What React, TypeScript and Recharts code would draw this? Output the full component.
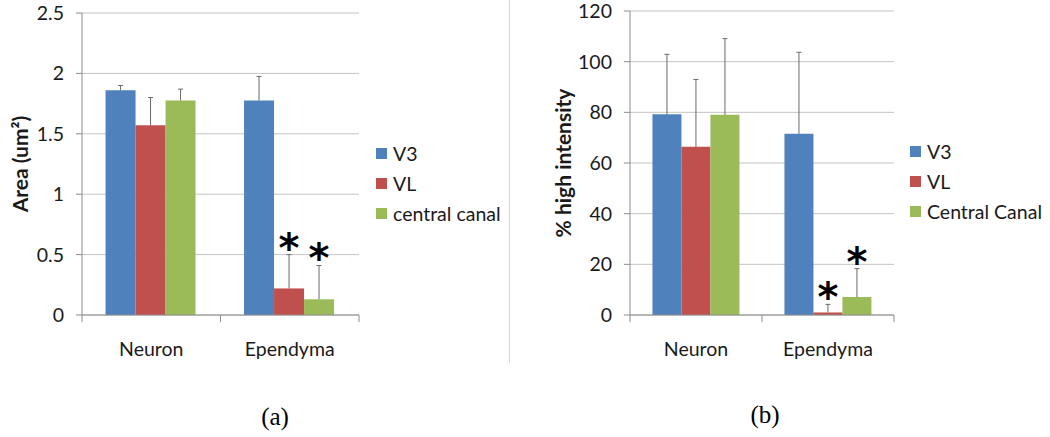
import React from "react";
import {
  Bar,
  BarChart,
  CartesianGrid,
  LabelList,
  XAxis,
  YAxis,
} from "recharts";

const categories = ["Neuron", "Ependyma"];

// panel (a): area
const areaV3 = [1.86, 1.775];
const areaV3Err = [0.04, 0.2];
const areaVL = [1.57, 0.22];
const areaVLErr = [0.23, 0.28];
const areaCC = [1.775, 0.13];
const areaCCErr = [0.095, 0.28];
const areaV3Sig = [false, false];
const areaVLSig = [false, true];
const areaCCSig = [false, true];
const areaTicks = [0, 0.5, 1, 1.5, 2, 2.5];

// panel (b): % high intensity
const intV3 = [79.2, 71.5];
const intV3Err = [23.7, 32.2];
const intVL = [66.4, 1.0];
const intVLErr = [26.6, 3.2];
const intCC = [79, 7.1];
const intCCErr = [30.1, 11.2];
const intV3Sig = [false, false];
const intVLSig = [false, true];
const intCCSig = [false, true];
const intTicks = [0, 20, 40, 60, 80, 100, 120];

const BLUE = "#4F81BD";
const RED = "#C0504D";
const GREEN = "#9BBB59";
const GRID = "#c4c4c4";
const AXIS = "#8c8c8c";
const ERR = "#6a6a6a";
const TEXT = "#1a1a1a";
const FONT = "Lato, 'Open Sans', sans-serif";

function buildRows(v3: number[], vl: number[], cc: number[]) {
  return categories.map((name, i) => ({ name, v3: v3[i], vl: vl[i], cc: cc[i] }));
}

// upper-only error bar plus optional significance star, placed from the bar's own geometry
function errLabel(values: number[], errs: number[], sig: boolean[]) {
  return (p: any) => {
    const i = p.index;
    const ratio = Number(p.height) / values[i];
    const barTop = Number(p.y);
    const top = barTop - errs[i] * ratio;
    const cx = Number(p.x) + Number(p.width) / 2;
    return (
      <g>
        <line x1={cx} x2={cx} y1={barTop} y2={top} stroke={ERR} strokeWidth={1} />
        <line x1={cx - 2.5} x2={cx + 2.5} y1={top} y2={top} stroke={ERR} strokeWidth={1} />
        {sig[i] && (
          <text
            x={cx}
            y={top + 7}
            textAnchor="middle"
            fontFamily="'DejaVu Sans', sans-serif"
            fontWeight="bold"
            fontSize={40}
            fill="#000"
          >
            *
          </text>
        )}
      </g>
    );
  };
}

function Panel({
  left, width, marginRight, yWidth, domain, ticks, yLabel, yLabelX, rows, top, series,
}: any) {
  const height = 380;
  const plotW = width - marginRight - yWidth;
  const half = plotW / categories.length / 2;
  return (
    <div style={{ position: "absolute", left, top: 0, width, height }}>
      <BarChart
        width={width}
        height={height}
        data={rows}
        margin={{ top, right: marginRight, bottom: 15, left: 0 }}
        barCategoryGap="17%"
        barGap={0}
      >
        <CartesianGrid vertical={false} stroke={GRID} />
        <XAxis
          dataKey="name"
          height={50}
          stroke={AXIS}
          tickLine={false}
          tickSize={0}
          tickMargin={0}
          tick={(t: any) => (
            <g>
              <line x1={t.x - half} x2={t.x - half} y1={t.y} y2={t.y + 7} stroke={AXIS} />
              {t.index === categories.length - 1 && (
                <line x1={t.x + half} x2={t.x + half} y1={t.y} y2={t.y + 7} stroke={AXIS} />
              )}
              <text x={t.x} y={t.y + 41} textAnchor="middle" fontFamily={FONT} fontSize={19.5} fill={TEXT}>
                {t.payload.value}
              </text>
            </g>
          )}
        />
        <YAxis
          width={yWidth}
          domain={domain}
          ticks={ticks}
          interval={0}
          stroke={AXIS}
          tickSize={6}
          tickMargin={12}
          tick={{ fontFamily: FONT, fontSize: 19.5, fill: TEXT }}
          label={{
            content: (l: any) => {
              const vb = l.viewBox;
              const cx = vb.x + yLabelX;
              const cy = vb.y + vb.height / 2;
              return (
                <text
                  x={cx}
                  y={cy}
                  transform={`rotate(-90 ${cx} ${cy})`}
                  textAnchor="middle"
                  dominantBaseline="central"
                  fontFamily={FONT}
                  fontWeight="bold"
                  fontSize={21}
                  fill={TEXT}
                >
                  {yLabel}
                </text>
              );
            },
          }}
        />
        {series.map((s: any) => (
          <Bar key={s.key} dataKey={s.key} fill={s.color} isAnimationActive={false}>
            <LabelList content={errLabel(s.values, s.errs, s.sig)} />
          </Bar>
        ))}
      </BarChart>
    </div>
  );
}

function LegendBox({ left, top, labels }: { left: number; top: number; labels: string[] }) {
  const colors = [BLUE, RED, GREEN];
  return (
    <div style={{ position: "absolute", left, top, fontFamily: FONT, fontSize: 19.5, color: TEXT }}>
      {labels.map((lab, i) => (
        <div key={lab} style={{ display: "flex", alignItems: "center", height: 30, whiteSpace: "nowrap" }}>
          <span style={{ display: "inline-block", width: 11, height: 11, background: colors[i], marginRight: 6 }} />
          <span>{lab}</span>
        </div>
      ))}
    </div>
  );
}

const captionStyle: React.CSSProperties = {
  position: "absolute",
  width: 100,
  lineHeight: "26px",
  textAlign: "center",
  fontFamily: "'Liberation Serif', serif",
  fontSize: 25,
  color: "#000",
};

export default function App() {
  const areaRows = buildRows(areaV3, areaVL, areaCC);
  const intRows = buildRows(intV3, intVL, intCC);
  const areaSeries = [
    { key: "v3", color: BLUE, values: areaV3, errs: areaV3Err, sig: areaV3Sig },
    { key: "vl", color: RED, values: areaVL, errs: areaVLErr, sig: areaVLSig },
    { key: "cc", color: GREEN, values: areaCC, errs: areaCCErr, sig: areaCCSig },
  ];
  const intSeries = [
    { key: "v3", color: BLUE, values: intV3, errs: intV3Err, sig: intV3Sig },
    { key: "vl", color: RED, values: intVL, errs: intVLErr, sig: intVLSig },
    { key: "cc", color: GREEN, values: intCC, errs: intCCErr, sig: intCCSig },
  ];
  return (
    <div
      style={{
        position: "absolute",
        left: 0,
        top: 0,
        width: 1050,
        height: 437,
        background: "#fff",
        overflow: "hidden",
      }}
    >
      <Panel
        left={0}
        width={510}
        marginRight={151}
        yWidth={82}
        top={13}
        domain={[0, 2.5]}
        ticks={areaTicks}
        yLabel="Area (um²)"
        yLabelX={19}
        rows={areaRows}
        series={areaSeries}
      />
      <Panel
        left={520}
        width={530}
        marginRight={156}
        yWidth={110}
        top={11}
        domain={[0, 120]}
        ticks={intTicks}
        yLabel="% high intensity"
        yLabelX={42}
        rows={intRows}
        series={intSeries}
      />
      <LegendBox left={376} top={138} labels={["V3", "VL", "central canal"]} />
      <LegendBox left={910} top={136} labels={["V3", "VL", "Central Canal"]} />
      <div style={{ position: "absolute", left: 509, top: 0, width: 1, height: 363, background: "#d6d6d6" }} />
      <div style={{ ...captionStyle, left: 225, top: 404 }}>(a)</div>
      <div style={{ ...captionStyle, left: 715, top: 402 }}>(b)</div>
    </div>
  );
}
